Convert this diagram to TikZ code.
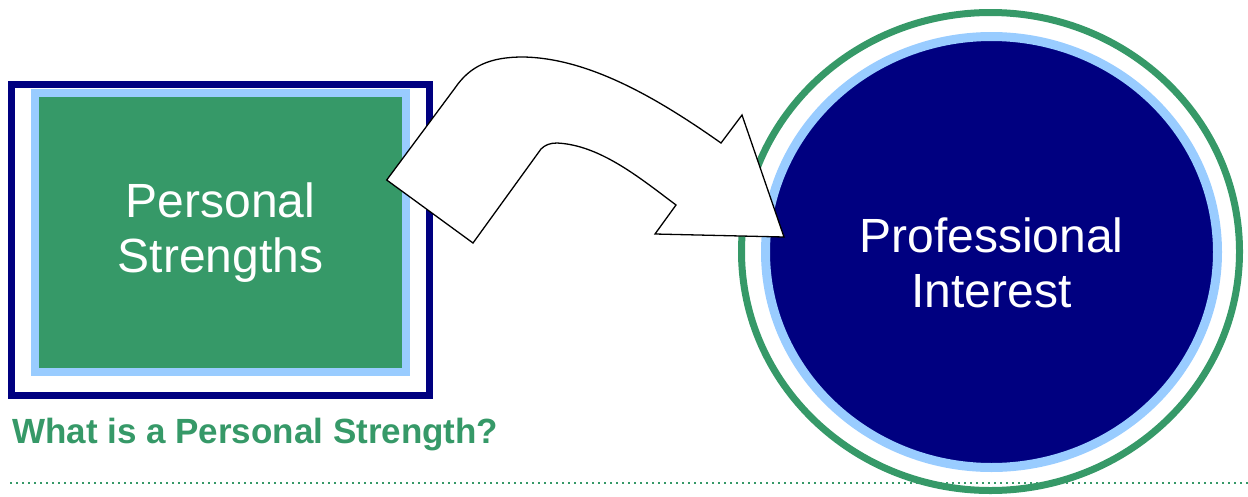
\documentclass[tikz,border=0pt]{standalone}
\usepackage{fontspec}
\setmainfont{Liberation Sans}
\usetikzlibrary{positioning,shapes.geometric}
\definecolor{navyblue}{RGB}{0,0,128}
\definecolor{skyblue}{RGB}{153,204,255}
\definecolor{leafgreen}{RGB}{54,153,104}

\begin{document}
\begin{tikzpicture}[x=1pt,y=-1pt,every node/.style={inner sep=0pt}]
\tikzstyle{frame}=[draw=navyblue,line width=7pt,minimum width=418pt,minimum height=311pt]
\tikzstyle{box}=[draw=skyblue,fill=leafgreen,line width=8pt,minimum width=371pt,minimum height=279pt]
\tikzstyle{ring}=[ellipse,draw=leafgreen,line width=7pt,minimum width=498pt,minimum height=478pt]
\tikzstyle{core}=[ellipse,draw=skyblue,fill=navyblue,line width=9pt,minimum width=452pt,minimum height=431pt]
\tikzstyle{bigtext}=[text=white,align=center,font=\fontsize{48}{55}\selectfont]
\tikzstyle{bentarrow}=[draw=black,fill=white,line width=1.3pt,line join=miter]
\useasboundingbox (0,0) rectangle (1248,496);

% dotted rule along the bottom
\draw[leafgreen,line width=2pt,dash pattern=on 2pt off 4pt] (10,483) -- (1248,483);

% left: personal strengths
\node[frame](n00) at (220.5,240){};
\node[box,bigtext](n01) at (220.5,232.5){Personal\\Strengths};
\node[anchor=base west,text=leafgreen,font=\fontsize{35}{40}\selectfont\bfseries](n02) at (12,443){What is a Personal Strength?};

% right: professional interest
\node[ring](n10) at (990.5,251.5){};
\node[core](n11) at (991.5,252){};
\node[bigtext](n12) at ([yshift=-11pt]n11.center){Professional\\Interest};

% bent block arrow
\draw[bentarrow] (386.7,180) -- (455,88) .. controls (470,66) and (490,57) .. (523,57)
  .. controls (590,58) and (660,100) .. (721,143) -- (742,115) -- (784,237)
  -- (655,234) -- (676,205) .. controls (640,178) and (600,145) .. (557,143)
  .. controls (550,143) and (545,145) .. (541,149) -- (473,243) -- cycle;
\end{tikzpicture}
\end{document}
